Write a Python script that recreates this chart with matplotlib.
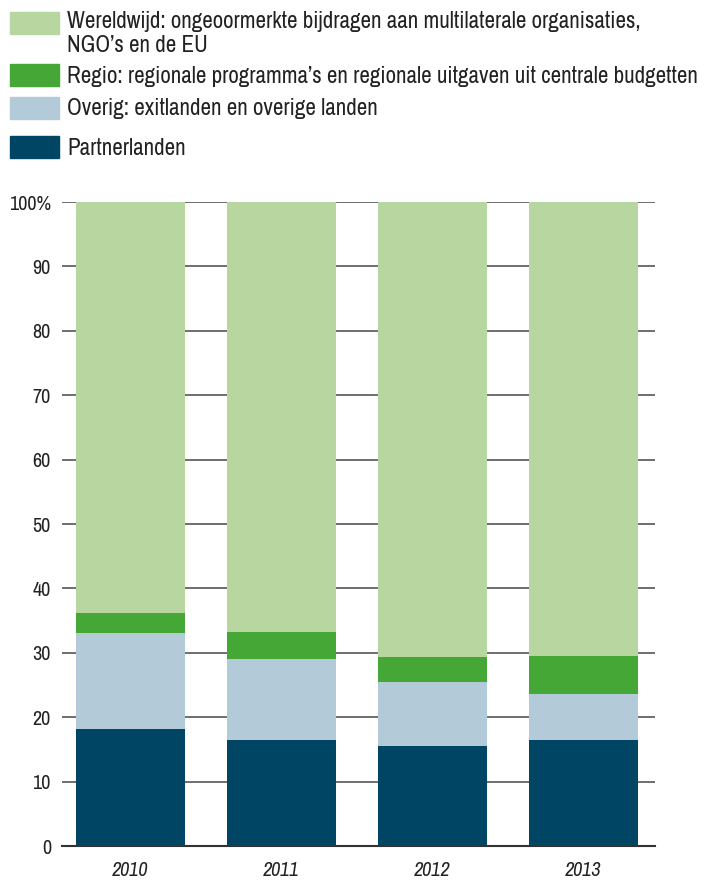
import matplotlib.pyplot as plt
from matplotlib.patches import Rectangle

plt.rcParams['font.family'] = ['Archivo Narrow', 'DejaVu Sans']

years = ['2010', '2011', '2012', '2013']
partnerlanden = [18.2, 16.5, 15.6, 16.5]
overig = [14.9, 12.6, 9.9, 7.1]
regio = [3.1, 4.2, 3.9, 5.9]
wereldwijd = [63.8, 66.7, 70.6, 70.5]

labels = [['Wereldwijd: ongeoormerkte bijdragen aan multilaterale organisaties,',
           'NGO\u2019s en de EU'],
          ['Regio: regionale programma\u2019s en regionale uitgaven uit centrale budgetten'],
          ['Overig: exitlanden en overige landen'],
          ['Partnerlanden']]
colors = ['#b8d6a0', '#45a736', '#b3cad9', '#004664']

fig = plt.figure(figsize=(7.06, 8.81), dpi=100)
ax = fig.add_axes([0.0878, 0.0397, 0.840, 0.731])

x = range(len(years))
bottom = [0] * len(years)
for vals, col in [(partnerlanden, colors[3]), (overig, colors[2]),
                  (regio, colors[1]), (wereldwijd, colors[0])]:
    ax.bar(x, vals, width=0.72, bottom=bottom, color=col, zorder=3)
    bottom = [b + v for b, v in zip(bottom, vals)]

ax.set_xlim(-0.454, 3.474)
ax.set_ylim(0, 100)
ax.set_yticks(range(0, 101, 10))
ax.set_yticklabels([str(v) for v in range(0, 100, 10)] + ['100%'])
ax.grid(axis='y', color='#555555', linewidth=1.2, zorder=1)
for s in ['left', 'right', 'top']:
    ax.spines[s].set_visible(False)
ax.spines['bottom'].set_color('#333333')
ax.spines['bottom'].set_linewidth(1.5)
ax.spines['bottom'].set_zorder(4)
ax.tick_params(axis='y', length=0, pad=8, labelsize=14.5, labelcolor='#222222')
ax.tick_params(axis='x', length=0, pad=11)
ax.set_xticks(list(x))
ax.set_xticklabels(years, fontsize=14.5, style='italic', color='#222222')

# legend drawn by hand: square top, baselines of each text line (pixels from top)
box_top = [12, 64, 97, 136]
baselines = [[28, 52], [83, None], [115, None], [155, None]]
for lines, col, bt, bl in zip(labels, colors, box_top, baselines):
    fig.add_artist(Rectangle((10 / 706, 1 - (bt + 22) / 881), 49 / 706, 22 / 881,
                             transform=fig.transFigure, color=col))
    for line, b in zip(lines, bl):
        fig.text(67 / 706, 1 - b / 881, line, fontsize=16.6, va='baseline',
                 color='#222222')

fig.savefig('out.png', dpi=100)
